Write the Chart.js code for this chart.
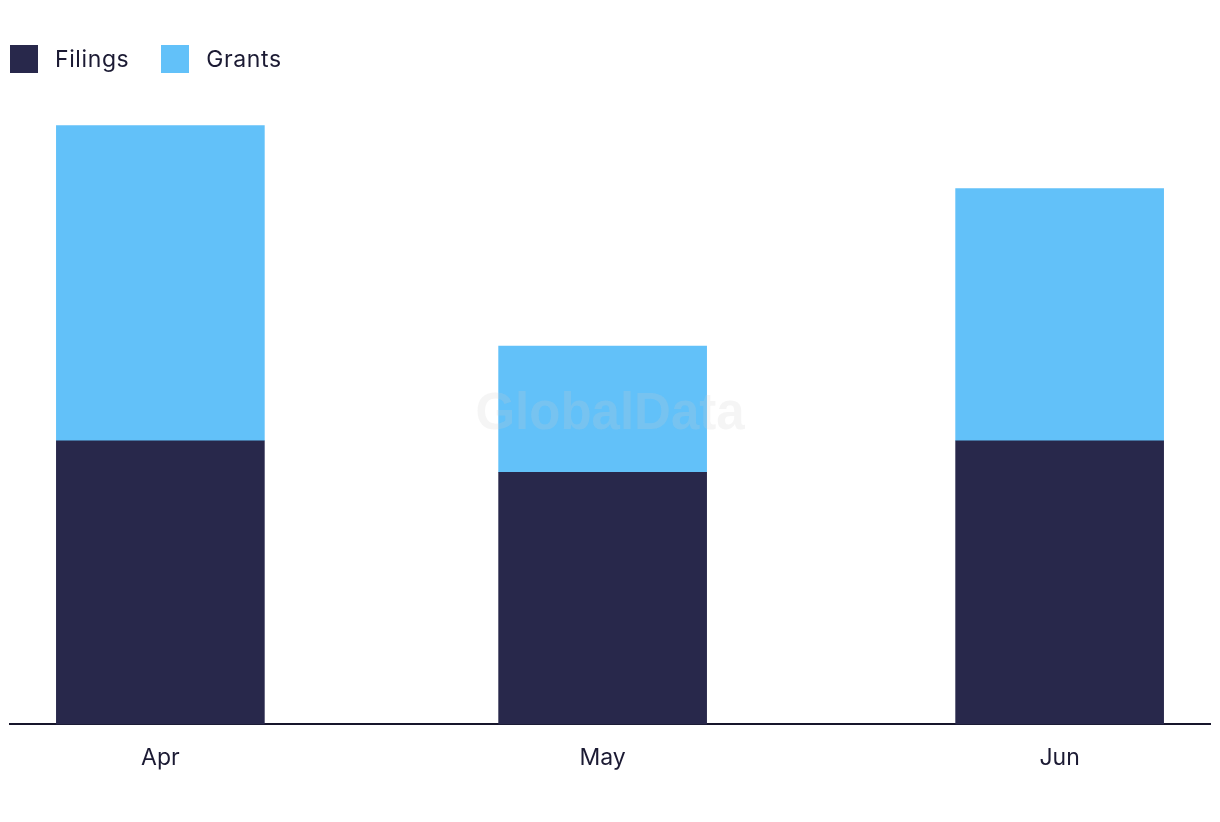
<!DOCTYPE html>
<html>
<head>
<meta charset="utf-8">
<script src="https://cdn.jsdelivr.net/npm/chart.js@4.4.0/dist/chart.umd.min.js"></script>
<style>
  html, body { margin: 0; padding: 0; background: #fff; }
  #wrap { position: relative; width: 1220px; height: 822px; }
  #chart { position: absolute; left: 0; top: 0; }
  .legend { position: absolute; left: 10px; top: 45px; display: flex; font-family: Inter, "Noto Sans", sans-serif; font-size: 23px; letter-spacing: 0.6px; color: #1b1a33; }
  .legend .item { display: flex; align-items: center; margin-right: 32px; }
  .legend .box { width: 28px; height: 28px; margin-right: 17px; }
</style>
</head>
<body>
<div id="wrap">
  <canvas id="chart" width="1220" height="822"></canvas>
  <div class="legend" id="legend"></div>
</div>
<script>
// Months shown on the time axis (day of year of the 1st of each month)
const months = ['Apr', 'May', 'Jun'];
const monthDays = [91, 121, 152];

// Series values
const filings = [9, 8, 9];
const grants = [10, 4, 8];

const seriesNames = ['Filings', 'Grants'];
const seriesColors = ['#28284b', '#62c1f9'];

// Legend (HTML)
const legendEl = document.getElementById('legend');
seriesNames.forEach((name, i) => {
  const item = document.createElement('div');
  item.className = 'item';
  item.innerHTML = `<span class="box" style="background:${seriesColors[i]}"></span><span>${name}</span>`;
  legendEl.appendChild(item);
});

// Faint watermark across the middle
const watermark = {
  id: 'watermark',
  afterDatasetsDraw(chart) {
    const ctx = chart.ctx;
    ctx.save();
    ctx.font = 'bold 51px "Liberation Sans", Arial, sans-serif';
    ctx.fillStyle = 'rgba(205,205,205,0.2)';
    ctx.textAlign = 'center';
    ctx.textBaseline = 'middle';
    ctx.fillText('GlobalData', 610, 415);
    ctx.restore();
  }
};

const toPoints = arr => arr.map((v, i) => ({ x: monthDays[i], y: v }));

new Chart(document.getElementById('chart'), {
  type: 'bar',
  data: {
    datasets: [
      { label: seriesNames[0], data: toPoints(filings), backgroundColor: seriesColors[0], barThickness: 208 },
      { label: seriesNames[1], data: toPoints(grants), backgroundColor: seriesColors[1], barThickness: 208 },
    ],
  },
  options: {
    responsive: false,
    animation: false,
    layout: { padding: { left: 10, right: 10, top: 94, bottom: 30 } },
    plugins: { legend: { display: false }, tooltip: { enabled: false } },
    scales: {
      x: {
        type: 'linear',
        stacked: true,
        offset: false,
        bounds: 'data',
        min: 80.8,
        max: 162.2,
        afterBuildTicks: axis => { axis.ticks = monthDays.map(v => ({ value: v })); },
        ticks: {
          padding: 20,
          maxRotation: 0,
          autoSkip: false,
          color: '#1b1a33',
          font: { family: 'Inter, "Noto Sans", sans-serif', size: 23 },
          callback: value => months[monthDays.indexOf(value)] || '',
        },
        grid: { display: false, drawTicks: false },
        border: { display: true, color: '#16152b', width: 2 },
      },
      y: {
        stacked: true,
        display: false,
        min: 0,
        max: 20,
      },
    },
  },
  plugins: [watermark],
});
</script>
</body>
</html>
